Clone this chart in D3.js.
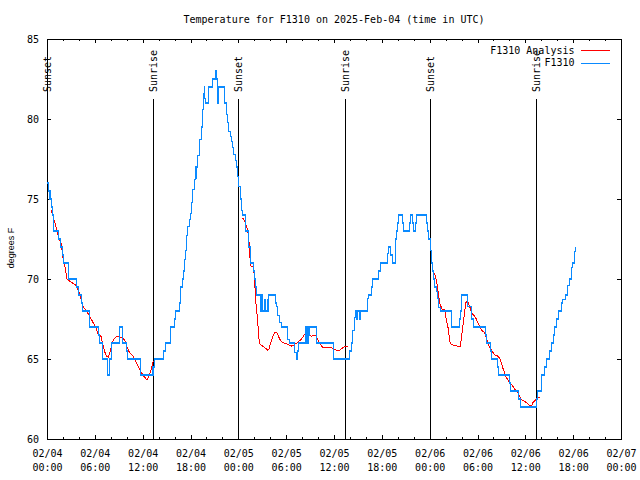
<!DOCTYPE html>
<html><head><meta charset="utf-8">
<script src="https://cdn.jsdelivr.net/npm/d3@7"></script>
<style>
body{margin:0;background:#fff}
svg{display:block}
text{font-family:"DejaVu Sans Mono",monospace;font-size:10px;fill:#000}
.ylab{font-family:"Liberation Sans",Arial,sans-serif;font-size:9px}
</style></head><body>
<svg id="c" width="640" height="480"></svg>
<script>
const chartTitle = "Temperature for F1310 on 2025-Feb-04 (time in UTC)";
const yLabel = "degrees F";
const startTime = "2025-02-04T00:00:00Z";
const endTime = "2025-02-07T00:00:00Z";
const yTicks = [60, 65, 70, 75, 80, 85];
const seriesNames = ["F1310 Analysis", "F1310"];
const seriesColors = ["#ff0000", "#0a8aff"];
const sunHours = [0.1, 13.3, 23.97, 37.38, 48.05, 61.34];
const sunLabels = ["Sunset", "Sunrise", "Sunset", "Sunrise", "Sunset", "Sunrise"];

// observed F1310 temperatures: [hours since 02/04 00:00 UTC, degF]
const f1310Obs = [[0.00,76],[0.19,75.5],[0.38,75],[0.56,74.5],[0.69,74],[0.78,73.5],[0.85,73],[1.48,72.5],[1.73,72],[1.98,71.5],[2.11,71],[2.70,70],[3.74,69.5],[3.95,69],[4.33,68.5],[4.49,68],[5.37,67],[6.46,66.5],[6.59,66],[7.00,65],[7.63,64],[7.80,65],[8.13,66],[9.13,67],[9.43,66],[10.01,65.5],[10.14,65],[11.69,64],[13.30,64.5],[13.48,65],[14.65,65.5],[14.86,66],[15.49,67],[15.99,67.5],[16.12,68],[16.62,68.5],[16.75,69.5],[16.96,70],[17.12,70.5],[17.25,71.2],[17.37,71.8],[17.54,72.7],[17.66,73.3],[17.87,73.7],[18.00,74.1],[18.16,74.8],[18.29,75.6],[18.50,76.2],[18.63,77],[18.72,76.3],[18.79,77],[18.92,77.7],[19.13,78.7],[19.34,79.5],[19.47,80.6],[19.63,81.6],[19.72,82],[19.79,81.3],[19.88,81],[20.30,82],[20.80,82.5],[21.14,83],[21.22,82.5],[21.35,82],[21.43,81],[21.51,82],[22.27,81],[22.48,80.3],[22.68,79.8],[22.81,79.2],[22.98,78.9],[23.11,78.6],[23.31,78.2],[23.43,77.8],[23.61,77.4],[23.81,77],[23.93,76.4],[24.06,75.8],[24.23,75],[24.36,74.3],[24.56,74],[24.86,73],[25.31,72],[25.49,71],[25.94,70.5],[26.03,70],[26.15,69.5],[26.24,69],[26.76,68],[26.95,69],[27.07,68],[27.28,68.7],[27.41,68],[27.62,68.7],[27.70,68],[27.80,69],[28.66,68.5],[28.75,68.3],[28.96,67.7],[29.16,67.3],[29.37,67],[30.21,66.2],[30.42,66],[31.05,65.4],[31.25,65],[31.46,65.5],[31.59,66],[32.43,67],[32.50,66],[32.59,67],[32.67,66],[32.76,67],[32.84,66.5],[32.93,67],[33.77,66],[35.98,65],[37.95,65.5],[38.20,66],[38.36,66.8],[38.57,67.6],[38.70,68],[38.86,67.5],[38.99,68],[39.20,67.5],[39.33,68],[40.17,68.8],[40.37,69],[40.67,69.5],[40.79,70],[41.62,70.5],[41.79,71],[42.67,71.6],[42.79,72],[43.09,71.5],[43.30,71],[43.68,72.5],[43.80,73],[44.01,73.5],[44.13,74],[44.56,73.5],[44.76,73],[45.47,73.5],[45.60,74],[45.89,73.5],[46.02,73],[46.22,73.5],[46.39,74],[47.60,73.5],[47.77,73],[47.89,72.5],[48.07,71.8],[48.19,71],[48.32,70.5],[48.48,70],[48.65,69.5],[48.82,69.2],[48.95,68.8],[49.15,68.2],[49.32,68],[50.74,67],[51.74,67.5],[51.87,68],[52.02,69],[52.79,68.3],[53.21,67.5],[53.50,67],[54.97,66.5],[55.17,66],[55.67,65.5],[55.80,65],[56.47,64.5],[56.64,64],[57.98,63.5],[58.10,63],[59.18,62.5],[59.36,62],[61.40,62.5],[61.53,63],[62.03,64],[62.45,64.5],[62.70,65],[63.03,65.5],[63.32,66],[63.54,66.5],[63.66,67],[63.95,67.5],[64.16,68],[64.50,68.5],[64.70,68.7],[65.00,69],[65.33,69.6],[65.54,70],[65.75,70.7],[65.95,71],[66.13,71.7],[66.29,72]];

// analysis (night-time) segments
const analysisNight1 = [[0.53,74.3],[0.94,73.6],[1.35,72.8],[1.78,72.2],[1.98,71.4],[2.32,70.6],[2.48,70.0],[3.04,69.8],[3.66,69.6],[3.99,69.2],[4.29,68.7],[4.49,68.3],[4.92,68.0],[5.33,67.7],[5.75,67.3],[6.17,66.95],[6.37,66.6],[6.80,66.4],[7.00,65.9],[7.21,65.5],[7.43,65.2],[7.71,65.1],[7.93,65.5],[8.18,66.0],[8.47,66.3],[8.68,66.4],[9.09,66.4],[9.51,66.3],[9.72,66.2],[10.01,65.8],[10.35,65.4],[10.76,65.2],[11.19,64.8],[11.60,64.35],[12.02,64.0],[12.52,63.7],[12.86,64.0],[13.07,64.35],[13.27,64.8],[13.48,64.9],[13.70,65.0]];
const analysisNight2 = [[24.56,73.8],[24.90,73.5],[25.19,73.0],[25.40,72.05],[25.49,71.0],[25.61,70.8],[25.90,70.8],[26.03,70.0],[26.15,68.9],[26.24,68.3],[26.44,67.3],[26.57,66.3],[26.74,65.9],[27.07,65.8],[27.49,65.64],[27.70,65.55],[27.82,65.6],[28.00,65.9],[28.25,66.3],[28.54,66.64],[28.75,66.68],[28.96,66.53],[29.16,66.26],[29.37,66.11],[29.58,66.01],[30.00,65.97],[30.42,65.86],[30.63,65.8],[31.05,65.9],[31.46,66.05],[31.89,66.22],[32.30,66.53],[32.72,66.68],[33.14,66.43],[33.56,66.47],[33.77,66.43],[33.98,66.22],[34.18,66.01],[34.60,65.7],[35.65,65.7],[36.06,65.6],[36.27,65.55],[36.69,65.55],[37.11,65.7],[37.32,65.76],[37.73,65.76]];
const analysisNight3 = [[48.61,70.4],[48.90,69.76],[49.15,68.9],[49.32,68.4],[49.57,68.1],[49.86,68.1],[50.08,67.47],[50.28,67.05],[50.40,66.6],[50.58,66.0],[50.70,65.9],[51.12,65.84],[51.53,65.8],[51.83,65.8],[51.96,66.2],[52.16,67.05],[52.37,67.9],[52.58,68.6],[52.79,68.6],[53.00,68.3],[53.21,68.0],[53.41,67.8],[53.63,67.7],[53.84,67.5],[54.04,67.26],[54.25,67.05],[54.47,66.84],[54.67,66.74],[54.88,66.64],[55.09,66.32],[55.29,66.0],[55.51,65.7],[55.72,65.6],[55.92,65.43],[56.13,65.28],[56.35,65.22],[56.55,65.18],[56.76,65.07],[56.97,64.76],[57.17,64.45],[57.39,64.14],[57.60,63.82],[57.80,63.72],[58.02,63.55],[58.43,63.3],[58.86,62.99],[59.06,62.89],[59.27,62.68],[59.48,62.47],[59.90,62.36],[60.31,62.22],[60.52,62.1],[60.81,62.1],[60.94,62.26],[61.15,62.36],[61.38,62.51],[61.58,62.57],[61.78,62.57]];

const svg = d3.select("#c");
const t0 = new Date(startTime), t1 = new Date(endTime);
const toDate = h => new Date(t0.getTime() + h * 3600000);
const x = d3.scaleUtc().domain([t0, t1]).range([47, 621]);
const y = d3.scaleLinear().domain([60, 85]).range([439, 39]);

const minorTicks = d3.utcHour.every(2).range(t0, new Date(t1.getTime() + 1));
const majorTicks = d3.utcHour.every(6).range(t0, new Date(t1.getTime() + 1));

// sun lines
sunHours.forEach((h, i) => {
  const sx = x(toDate(h));
  svg.append("line").attr("x1", sx).attr("x2", sx).attr("y1", 99).attr("y2", 439)
    .attr("stroke", "#000").attr("stroke-width", 1).attr("shape-rendering", "crispEdges");
  svg.append("text").attr("transform", `translate(${sx},92) rotate(-90)`)
    .attr("text-anchor", "start").attr("dy", "0.35em").text(sunLabels[i]);
});

// axes
function clean(g){ g.select(".domain").remove(); g.attr("font-family", null).attr("font-size", null); g.selectAll("line").attr("shape-rendering","crispEdges"); }
svg.append("g").attr("transform", "translate(0,439)")
  .call(d3.axisBottom(x).tickValues(minorTicks).tickSize(-2).tickFormat("")).call(clean);
const bx = svg.append("g").attr("transform", "translate(0,439)")
  .call(d3.axisBottom(x).tickValues(majorTicks).tickSize(-4).tickPadding(0).tickFormat(d3.utcFormat("%m/%d"))).call(clean);
bx.selectAll(".tick text").each(function(d){
  const t = d3.select(this);
  t.text(null).attr("y", 0).attr("dy", null);
  t.append("tspan").attr("x", 0).attr("y", 18).text(d3.utcFormat("%m/%d")(d));
  t.append("tspan").attr("x", 0).attr("y", 31.5).text(d3.utcFormat("%H:%M")(d));
});
svg.append("g").attr("transform", "translate(0,39)")
  .call(d3.axisTop(x).tickValues(minorTicks).tickSize(-2).tickFormat("")).call(clean);
svg.append("g").attr("transform", "translate(0,39)")
  .call(d3.axisTop(x).tickValues(majorTicks).tickSize(-4).tickFormat("")).call(clean);
svg.append("g").attr("transform", "translate(47,0)")
  .call(d3.axisLeft(y).tickValues(yTicks).tickSize(-4).tickPadding(8)).call(clean);
svg.append("g").attr("transform", "translate(621,0)")
  .call(d3.axisRight(y).tickValues(yTicks).tickSize(-4).tickFormat("")).call(clean);

svg.append("rect").attr("x", 47.5).attr("y", 39.5).attr("width", 574).attr("height", 400)
  .attr("fill", "none").attr("stroke", "#000").attr("shape-rendering", "crispEdges");

// data lines
const line = d3.line().x(d => x(toDate(d[0]))).y(d => y(d[1]));
[analysisNight1, analysisNight2, analysisNight3].forEach(seg => {
  svg.append("path").datum(seg).attr("d", line).attr("fill", "none")
    .attr("stroke", seriesColors[0]).attr("stroke-width", 1).attr("shape-rendering", "crispEdges");
});
svg.append("path").datum(f1310Obs).attr("d", line.curve(d3.curveStepAfter)).attr("fill", "none")
  .attr("stroke", seriesColors[1]).attr("stroke-width", 1.2).attr("shape-rendering", "crispEdges");

// legend
seriesNames.forEach((n, i) => {
  const ly = 50 + i * 12.5;
  svg.append("text").attr("x", 574.5).attr("y", ly).attr("dy", "0.35em").attr("text-anchor", "end").text(n);
  svg.append("line").attr("x1", 581).attr("x2", 610).attr("y1", ly + 0.5).attr("y2", ly + 0.5)
    .attr("stroke", seriesColors[i]).attr("stroke-width", 1).attr("shape-rendering", "crispEdges");
});

// titles
svg.append("text").attr("x", 334).attr("y", 23).attr("text-anchor", "middle").text(chartTitle);
svg.append("text").attr("class", "ylab").attr("transform", "translate(11,248) rotate(-90)")
  .attr("text-anchor", "middle").attr("dy", "0.35em").text(yLabel);
</script>
</body></html>
